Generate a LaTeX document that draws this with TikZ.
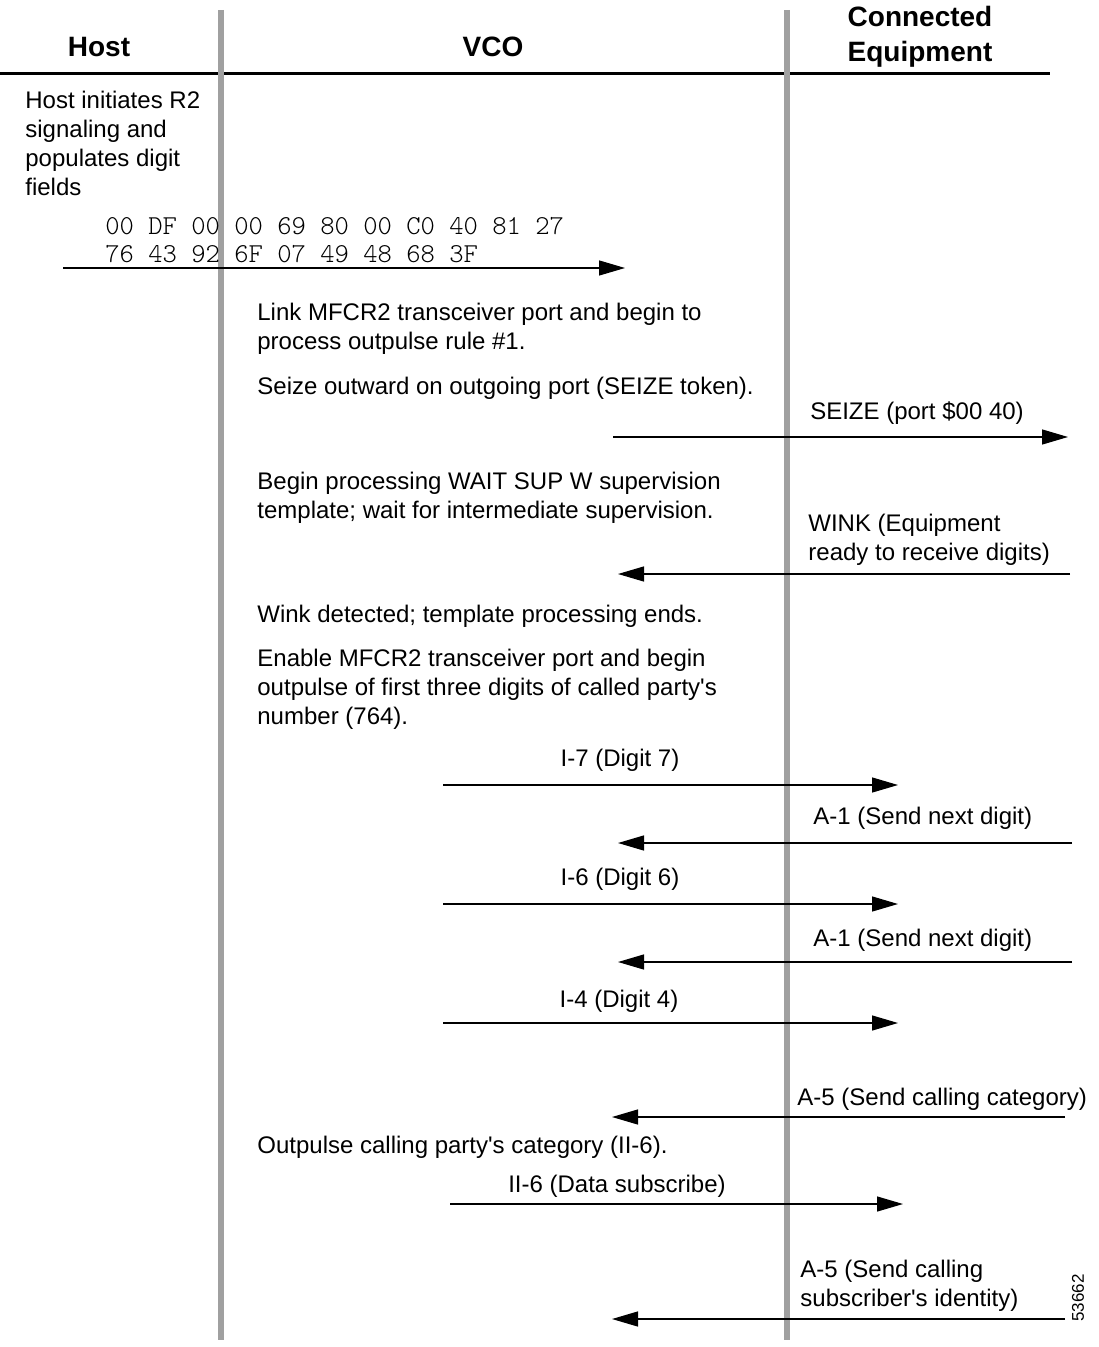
\documentclass[tikz,border=0pt]{standalone}
\usepackage{fontspec}
\setmainfont{Liberation Sans}[Ligatures=TeXOff]
\setmonofont{Latin Modern Mono Light}
\usepackage{tikz}
\usetikzlibrary{arrows.meta, positioning}
\definecolor{lifegray}{RGB}{160, 160, 160}

\begin{document}
\begin{tikzpicture}[
    x=0.5pt, y=-0.5pt,
    lifeline/.style={draw=lifegray, line width=3pt},
    head/.style={inner sep=0, align=center, font=\fontsize{14}{17.5}\selectfont\bfseries},
    note/.style={inner sep=0, anchor=north west, align=left, font=\fontsize{12}{14.5}\selectfont},
    msg/.style={inner sep=0, anchor=base, font=\fontsize{12}{14.5}\selectfont},
    hexdump/.style={inner sep=0, anchor=north west, align=left, font=\fontsize{13.65}{14}\selectfont\ttfamily},
    arrow/.style={-{Triangle[length=13pt, width=7.5pt]}, line width=0.65pt}
]
    \useasboundingbox (0,0) rectangle (1098,1347);

    % Columns
    \node[head] (host) at (99, 47) {Host};
    \node[head] (vco) at (493, 47) {VCO};
    \node[head] (equip) at (920, 37) {Connected\\Equipment};
    \coordinate (ruleL) at (0, 74);
    \coordinate (ruleR) at (1050, 74);
    \draw[line width=1.5pt] (ruleL) -- (ruleR);

    \coordinate (vcoTop) at (221, 10);
    \coordinate (vcoBot) at (221, 1340);
    \coordinate (eqTop) at (787, 10);
    \coordinate (eqBot) at (787, 1340);
    \draw[lifeline] (vcoTop) -- (vcoBot);
    \draw[lifeline] (eqTop) -- (eqBot);

    % Host side
    \node[note] (init) at (25, 91) {Host initiates R2\\signaling and\\populates digit\\fields};
    \node[hexdump] (hex) at (105, 217) {00 DF 00 00 69 80 00 C0 40 81 27\\76 43 92 6F 07 49 48 68 3F};
    \coordinate (m1s) at (63, 268);
    \coordinate (m1e) at (625, 268);
    \draw[arrow] (m1s) -- (m1e);

    % VCO side
    \node[note] (link) at (257, 303) {Link MFCR2 transceiver port and begin to\\process outpulse rule \#1.};
    \node[note] (seize) at (257, 377) {Seize outward on outgoing port (SEIZE token).};
    \node[msg] (seizemsg) at (917, 420) {SEIZE (port \$00 40)};
    \coordinate (m2s) at (613, 437);
    \coordinate (m2e) at (1068, 437);
    \draw[arrow] (m2s) -- (m2e);

    \node[note] (waitsup) at (257, 472) {Begin processing WAIT SUP W supervision\\template; wait for intermediate supervision.};
    \node[note] (winkmsg) at (808, 514) {WINK (Equipment\\ready to receive digits)};
    \coordinate (m3s) at (1070, 574);
    \coordinate (m3e) at (618, 574);
    \draw[arrow] (m3s) -- (m3e);

    \node[note] (winkdet) at (257, 605) {Wink detected; template processing ends.};
    \node[note] (enable) at (257, 649) {Enable MFCR2 transceiver port and begin\\outpulse of first three digits of called party's\\number (764).};

    % Digit exchange
    \node[msg] (i7) at (620, 766) {I-7 (Digit 7)};
    \coordinate (m4s) at (443, 785);
    \coordinate (m4e) at (898, 785);
    \draw[arrow] (m4s) -- (m4e);

    \node[msg, anchor=base west] (a1a) at (813, 824) {A-1 (Send next digit)};
    \coordinate (m5s) at (1072, 843);
    \coordinate (m5e) at (618, 843);
    \draw[arrow] (m5s) -- (m5e);

    \node[msg] (i6) at (620, 885) {I-6 (Digit 6)};
    \coordinate (m6s) at (443, 904);
    \coordinate (m6e) at (898, 904);
    \draw[arrow] (m6s) -- (m6e);

    \node[msg, anchor=base west] (a1b) at (813, 946) {A-1 (Send next digit)};
    \coordinate (m7s) at (1072, 962);
    \coordinate (m7e) at (618, 962);
    \draw[arrow] (m7s) -- (m7e);

    \node[msg] (i4) at (619, 1007) {I-4 (Digit 4)};
    \coordinate (m8s) at (443, 1023);
    \coordinate (m8e) at (898, 1023);
    \draw[arrow] (m8s) -- (m8e);

    % Category and identity
    \node[msg, anchor=base west] (a5a) at (797, 1105) {A-5 (Send calling category)};
    \coordinate (m9s) at (1065, 1117);
    \coordinate (m9e) at (612, 1117);
    \draw[arrow] (m9s) -- (m9e);

    \node[note] (category) at (257, 1136) {Outpulse calling party's category (II-6).};
    \node[msg] (ii6) at (617, 1192) {II-6 (Data subscribe)};
    \coordinate (m10s) at (450, 1204);
    \coordinate (m10e) at (903, 1204);
    \draw[arrow] (m10s) -- (m10e);

    \node[note] (a5b) at (800, 1260) {A-5 (Send calling\\subscriber's identity)};
    \coordinate (m11s) at (1065, 1319);
    \coordinate (m11e) at (612, 1319);
    \draw[arrow] (m11s) -- (m11e);

    \node[inner sep=0, rotate=90, font=\fontsize{8.5}{10}\selectfont] (figno) at (1078, 1298) {53662};

\end{tikzpicture}
\end{document}
